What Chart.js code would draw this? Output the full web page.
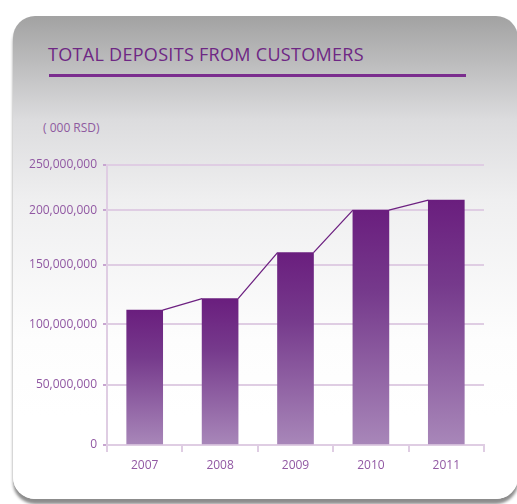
<!DOCTYPE html>
<html lang="en">
<head>
  <meta charset="UTF-8">
  <title>Total Deposits from Customers</title>
  <script src="https://cdn.jsdelivr.net/npm/chart.js"></script>
  <style>
    body { margin: 0; background: #fff; font-family: "Open Sans", sans-serif; }
    .panel {
      position: absolute; left: 13px; top: 16px; width: 505px; height: 483px;
      border-radius: 22px;
      background: linear-gradient(#a2a2a2 0px, #dcdcde 104px, #efeff0 184px, #fdfdfd 324px, #ffffff 400px);
      box-shadow: 0 5px 3px rgba(0, 0, 0, 0.45);
    }
    .title {
      position: absolute; left: 48px; top: 42px; margin: 0;
      font-size: 18px; font-weight: normal; color: #6e2784; letter-spacing: 0.3px;
    }
    .rule { position: absolute; left: 49px; top: 74px; width: 417px; height: 3px; background: #7b2d8e; }
    .unit { position: absolute; left: 43px; top: 119px; font-size: 12px; color: #8e5a9f; }
    #chart { position: absolute; left: 0; top: 0; }
  </style>
</head>
<body>
  <div class="panel"></div>
  <h1 class="title">TOTAL DEPOSITS FROM CUSTOMERS</h1>
  <div class="rule"></div>
  <div class="unit">( 000 RSD)</div>
  <canvas id="chart" width="517" height="504"></canvas>

  <script>
    const years = ['2007', '2008', '2009', '2010', '2011'];
    const deposits = [112000000, 121500000, 161000000, 200000000, 211000000];
    const yTicks = [0, 50000000, 100000000, 150000000, 200000000, 250000000];
    // where each tick sits up the axis (0 = bottom, 1 = top); the gaps are uneven
    const yTickStops = [0, 0.215, 0.431, 0.644, 0.839, 1];

    const labelColor = '#9158a3';
    const gridColor = '#dfcde3';

    function valueToDecimal(v) {
      for (let i = 1; i < yTicks.length; i++) {
        if (v <= yTicks[i] || i === yTicks.length - 1) {
          const t = (v - yTicks[i - 1]) / (yTicks[i] - yTicks[i - 1]);
          return yTickStops[i - 1] + t * (yTickStops[i] - yTickStops[i - 1]);
        }
      }
      return 0;
    }
    function decimalToValue(d) {
      for (let i = 1; i < yTickStops.length; i++) {
        if (d <= yTickStops[i] || i === yTickStops.length - 1) {
          const t = (d - yTickStops[i - 1]) / (yTickStops[i] - yTickStops[i - 1]);
          return yTicks[i - 1] + t * (yTicks[i] - yTicks[i - 1]);
        }
      }
      return 0;
    }

    // linear scale with piecewise spacing between the ticks
    class SteppedScale extends Chart.LinearScale {
      getPixelForValue(value) {
        return this.getPixelForDecimal(valueToDecimal(value));
      }
      getValueForPixel(pixel) {
        return decimalToValue(this.getDecimalForPixel(pixel));
      }
    }
    SteppedScale.id = 'stepped';
    SteppedScale.defaults = Chart.LinearScale.defaults;
    Chart.register(SteppedScale);

    // thin line joining the top corners of neighbouring bars
    const joinLine = {
      id: 'joinLine',
      afterDatasetsDraw(chart) {
        const bars = chart.getDatasetMeta(0).data;
        const ctx = chart.ctx;
        ctx.save();
        ctx.strokeStyle = '#6d2181';
        ctx.lineWidth = 1.3;
        ctx.beginPath();
        for (let i = 0; i < bars.length - 1; i++) {
          const a = bars[i].getProps(['x', 'y', 'width'], true);
          const b = bars[i + 1].getProps(['x', 'y', 'width'], true);
          ctx.moveTo(a.x + a.width / 2, a.y);
          ctx.lineTo(b.x - b.width / 2, b.y);
        }
        ctx.stroke();
        ctx.restore();
      }
    };

    function barFill(context) {
      const chart = context.chart;
      const area = chart.chartArea;
      if (!area) return '#6c2080';
      const top = chart.scales.y.getPixelForValue(context.raw);
      const g = chart.ctx.createLinearGradient(0, top, 0, area.bottom);
      g.addColorStop(0, '#6a1e7e');
      g.addColorStop(0.35, '#763a8c');
      g.addColorStop(1, '#a887b9');
      return g;
    }

    new Chart(document.getElementById('chart'), {
      type: 'bar',
      data: {
        labels: years,
        datasets: [{
          data: deposits,
          backgroundColor: barFill,
          borderWidth: 0,
          barThickness: 36
        }]
      },
      options: {
        responsive: false,
        animation: false,
        layout: { padding: { left: 0, top: 165, right: 33, bottom: 0 } },
        plugins: { legend: { display: false }, tooltip: { enabled: false } },
        scales: {
          x: {
            afterFit: s => { s.height = 59; },
            grid: { offset: true, drawOnChartArea: false, drawTicks: true, tickLength: 7, color: gridColor, lineWidth: 2 },
            border: { color: gridColor, width: 2 },
            ticks: { color: labelColor, font: { family: 'Open Sans', size: 12 }, padding: 6 }
          },
          y: {
            type: 'stepped',
            min: 0,
            max: 250000000,
            afterFit: s => { s.width = 107; },
            afterBuildTicks: s => { s.ticks = yTicks.map(v => ({ value: v })); },
            grid: { color: gridColor, lineWidth: 2, tickLength: 4, tickColor: '#c7a6d0' },
            border: { color: gridColor, width: 2 },
            ticks: {
              color: labelColor,
              font: { family: 'Open Sans', size: 12 },
              padding: 6,
              callback: v => v.toLocaleString('en-US')
            }
          }
        }
      },
      plugins: [joinLine]
    });
  </script>
</body>
</html>
